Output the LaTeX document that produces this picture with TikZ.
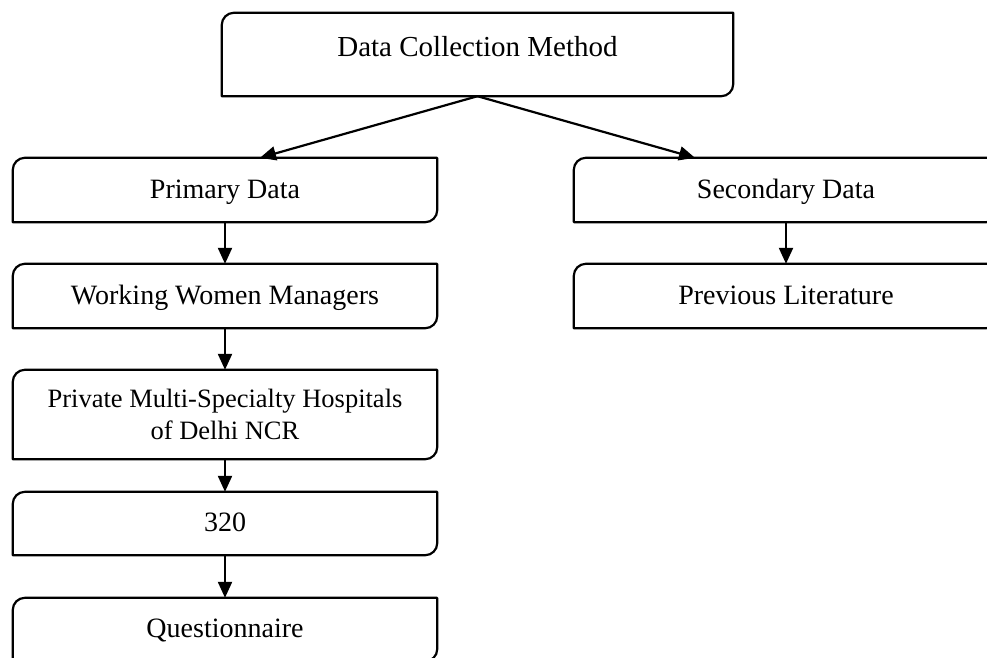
\documentclass[tikz,border=0pt]{standalone}
\usepackage{fontspec}
\setmainfont{Liberation Serif}
\usetikzlibrary{arrows.meta}
\newcommand\tlbrframe[1]{%
  \draw[frame] (#1.south west) -- ([yshift=-12pt]#1.north west)
    arc[start angle=180,end angle=90,radius=12pt] -- (#1.north east)
    -- ([yshift=12pt]#1.south east)
    arc[start angle=0,end angle=-90,radius=12pt] -- cycle;}
\begin{document}
\begin{tikzpicture}[x=1pt,y=1pt,
  box/.style={inner sep=0pt, minimum width=424pt, align=center,
    font=\fontsize{28}{32}\selectfont},
  frame/.style={line width=2.2pt, line join=round},
  arr/.style={line width=2.2pt,-{Triangle[length=16pt,width=14pt]}}]
\clip (0,0) rectangle (987,-657);
\node[box, minimum width=511pt, text height=43pt, text depth=40pt,
  font=\fontsize{29}{33}\selectfont] (top) at (477.5,-54.5) {Data Collection Method};
\node[box, text height=40pt, text depth=24pt] (primary) at (225,-190) {Primary Data};
\node[box, text height=40pt, text depth=24pt] (wwm) at (225,-296) {Working Women Managers};
\node[box, minimum height=89pt, font=\fontsize{26.5}{32}\selectfont] (private) at (225,-414.5) {Private Multi-Specialty Hospitals\\of Delhi NCR};
\node[box, text height=39pt, text depth=24pt] (n320) at (225,-523.5) {320};
\node[box, text height=39pt, text depth=24pt] (quest) at (225,-629.5) {Questionnaire};
\node[box, text height=40pt, text depth=24pt] (secondary) at (786,-190) {Secondary Data};
\node[box, text height=40pt, text depth=24pt] (previous) at (786,-296) {Previous Literature};
\foreach \n in {top,primary,wwm,private,n320,quest,secondary,previous}{\tlbrframe{\n}}
\draw[arr] (top.south) -- ([xshift=35pt]primary.north);
\draw[arr] (top.south) -- ([xshift=-91pt]secondary.north);
\draw[arr] (primary.south) -- (wwm.north);
\draw[arr] (wwm.south) -- (private.north);
\draw[arr] (private.south) -- (n320.north);
\draw[arr] (n320.south) -- (quest.north);
\draw[arr] (secondary.south) -- (previous.north);
\end{tikzpicture}
\end{document}
